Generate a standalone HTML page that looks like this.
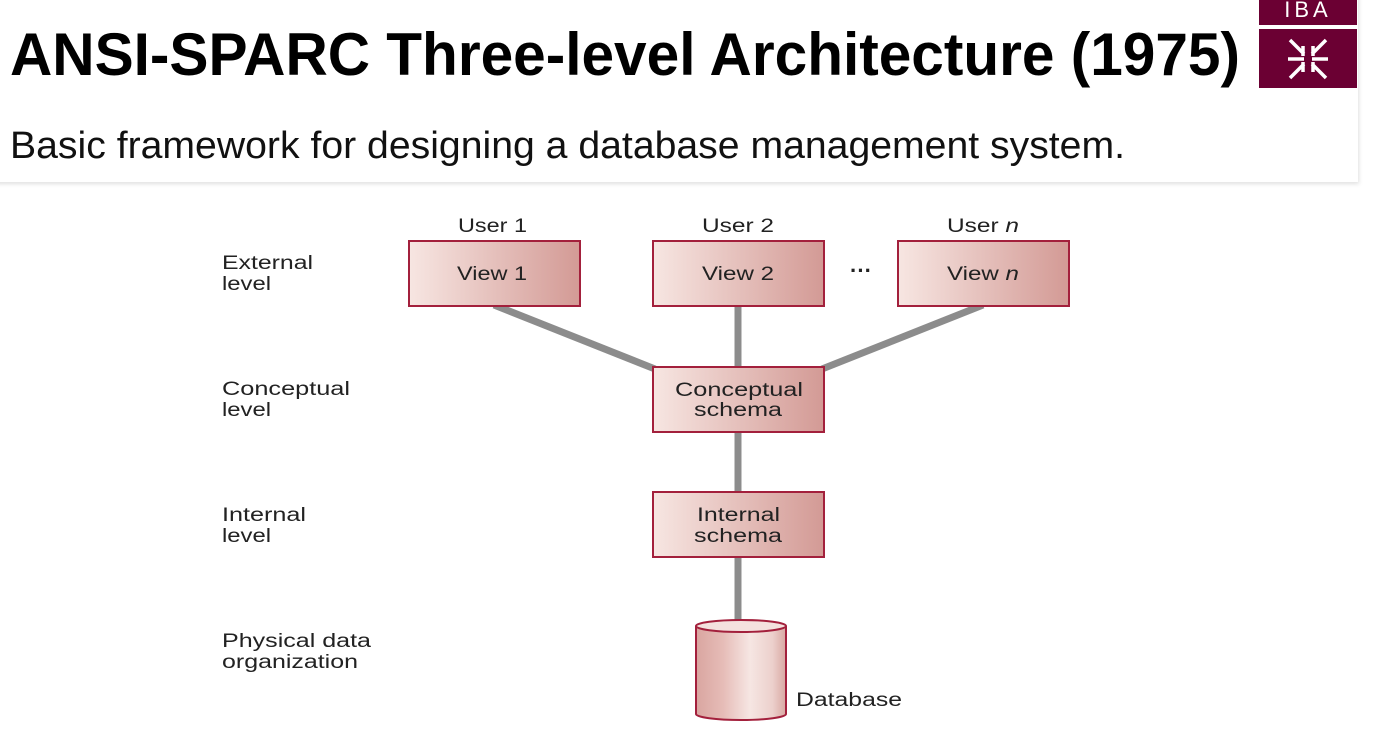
<!DOCTYPE html>
<html><head><meta charset="utf-8"><style>
html,body{margin:0;padding:0;background:#fff;}
svg{display:block;}
text{font-family:"Liberation Sans",sans-serif;}
</style></head><body>
<svg width="1382" height="738" viewBox="0 0 1382 738" xmlns="http://www.w3.org/2000/svg">
<defs>
<linearGradient id="g" x1="0" x2="1" y1="0" y2="0">
<stop offset="0" stop-color="#f7e6e2"/><stop offset="1" stop-color="#d39a95"/>
</linearGradient>
<linearGradient id="c" x1="0" x2="1" y1="0" y2="0">
<stop offset="0" stop-color="#d9a5a0"/><stop offset="0.3" stop-color="#e6bcb7"/><stop offset="0.6" stop-color="#f6e6e3"/><stop offset="0.85" stop-color="#ecd0cc"/><stop offset="1" stop-color="#d8a7a2"/>
</linearGradient>
<filter id="sh" x="-5%" y="-5%" width="110%" height="120%"><feDropShadow dx="1" dy="2" stdDeviation="2" flood-color="#000" flood-opacity="0.12"/></filter>
</defs>
<rect x="-10" y="-10" width="1368" height="192" fill="#fff" filter="url(#sh)"/>
<text x="10" y="75" font-size="60" font-weight="bold" textLength="1230" lengthAdjust="spacingAndGlyphs">ANSI-SPARC Three-level Architecture (1975)</text>
<text x="10" y="158" font-size="38" textLength="1115" lengthAdjust="spacingAndGlyphs" fill="#111">Basic framework for designing a database management system.</text>
<!-- logo -->
<rect x="1259" y="0" width="98" height="25" fill="#6b0033"/>
<text x="1308" y="17" font-size="22" fill="#fff" text-anchor="middle" letter-spacing="4">IBA</text>
<rect x="1259" y="29" width="98" height="59" fill="#6b0033"/>
<g stroke="#fff" stroke-width="3.5" fill="none">
<path d="M1290 40 L1304 54 M1326 40 L1312 54 M1290 78 L1304 64 M1326 78 L1312 64 M1288 59 L1304 59 M1312 59 L1328 59 M1303 46 V56 M1313 46 V56 M1303 62 V72 M1313 62 V72"/>
</g>
<!-- connectors -->
<g stroke="#8c8c8c" stroke-width="7">
<line x1="494" y1="305" x2="655" y2="369"/>
<line x1="738" y1="305" x2="738" y2="367"/>
<line x1="983" y1="305" x2="822" y2="369"/>
<line x1="738" y1="431" x2="738" y2="492"/>
<line x1="738" y1="557" x2="738" y2="624"/>
</g>
<g stroke="#a3203c" stroke-width="2" fill="url(#g)">
<rect x="409" y="241" width="171" height="65"/>
<rect x="653" y="241" width="171" height="65"/>
<rect x="898" y="241" width="171" height="65"/>
<rect x="653" y="367" width="171" height="65"/>
<rect x="653" y="492" width="171" height="65"/>
</g>
<!-- cylinder -->
<path d="M696 626 V714 A45 6 0 0 0 786 714 V626" fill="url(#c)" stroke="#a3203c" stroke-width="2"/>
<ellipse cx="741" cy="626" rx="45" ry="6" fill="#f4e1de" stroke="#a3203c" stroke-width="2"/>
<g font-size="19" fill="#222" lengthAdjust="spacingAndGlyphs">
<text x="458" y="232" textLength="69" lengthAdjust="spacingAndGlyphs">User 1</text>
<text x="702" y="232" textLength="72" lengthAdjust="spacingAndGlyphs">User 2</text>
<text x="947" y="232" textLength="72" lengthAdjust="spacingAndGlyphs">User <tspan font-style="italic">n</tspan></text>
<text x="457" y="280" textLength="70" lengthAdjust="spacingAndGlyphs">View 1</text>
<text x="702" y="280" textLength="72" lengthAdjust="spacingAndGlyphs">View 2</text>
<text x="947" y="280" textLength="72" lengthAdjust="spacingAndGlyphs">View <tspan font-style="italic">n</tspan></text>
<text x="861" y="278" text-anchor="middle" font-weight="bold" font-size="22">···</text>
<text x="675" y="396" textLength="128" lengthAdjust="spacingAndGlyphs">Conceptual</text>
<text x="694" y="416" textLength="88" lengthAdjust="spacingAndGlyphs">schema</text>
<text x="697" y="521" textLength="83" lengthAdjust="spacingAndGlyphs">Internal</text>
<text x="694" y="542" textLength="88" lengthAdjust="spacingAndGlyphs">schema</text>
<text x="796" y="706" textLength="106" lengthAdjust="spacingAndGlyphs">Database</text>
<text x="222" y="269" textLength="91" lengthAdjust="spacingAndGlyphs">External</text>
<text x="222" y="290" textLength="49" lengthAdjust="spacingAndGlyphs">level</text>
<text x="222" y="395" textLength="128" lengthAdjust="spacingAndGlyphs">Conceptual</text>
<text x="222" y="416" textLength="49" lengthAdjust="spacingAndGlyphs">level</text>
<text x="222" y="521" textLength="84" lengthAdjust="spacingAndGlyphs">Internal</text>
<text x="222" y="542" textLength="49" lengthAdjust="spacingAndGlyphs">level</text>
<text x="222" y="647" textLength="149" lengthAdjust="spacingAndGlyphs">Physical data</text>
<text x="222" y="668" textLength="136" lengthAdjust="spacingAndGlyphs">organization</text>
</g>
</svg>
</body></html>
